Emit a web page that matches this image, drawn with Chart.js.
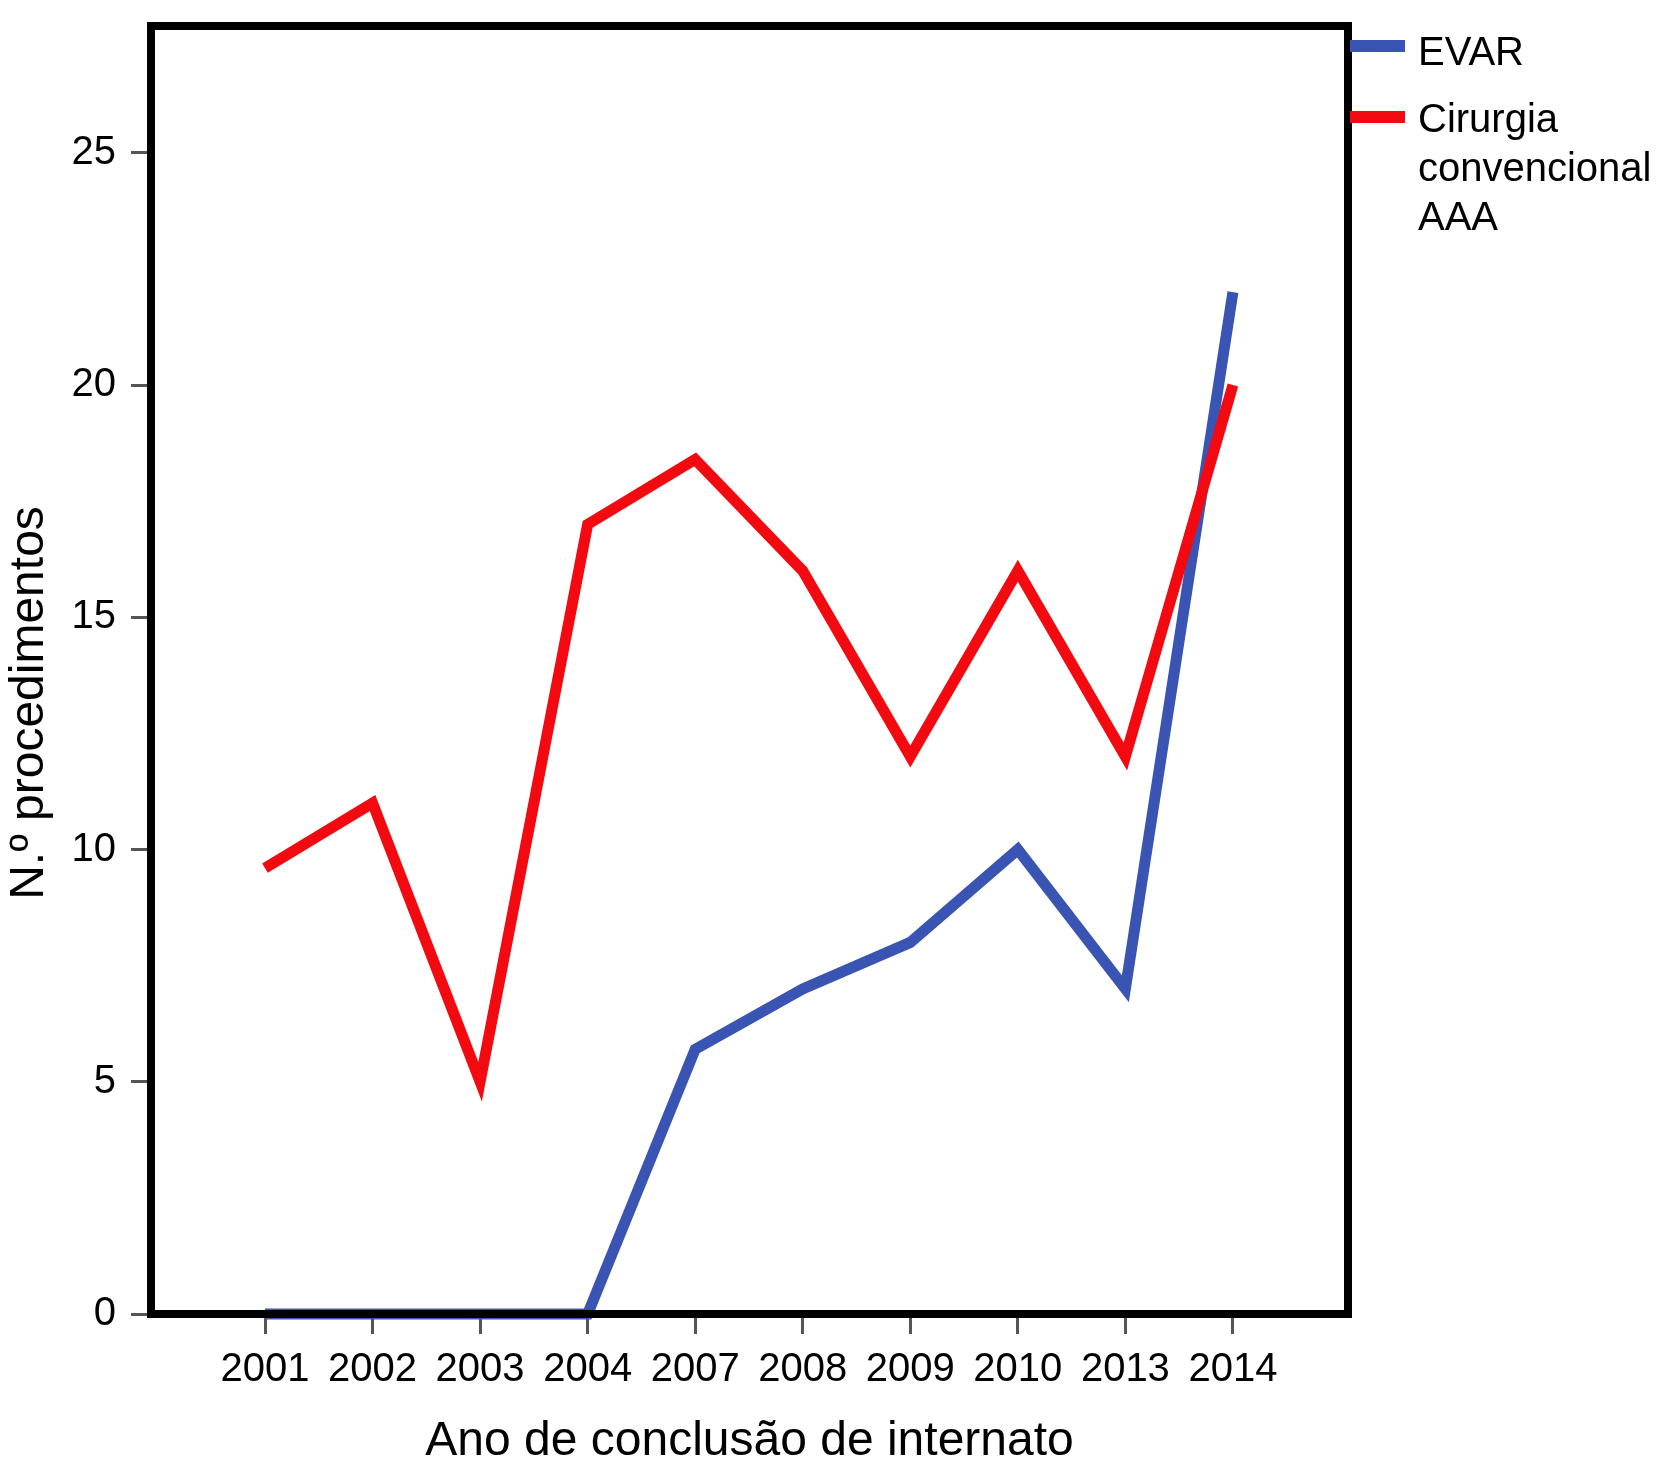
<!DOCTYPE html>
<html>
<head>
    <meta charset='utf-8'>
    <title>EVAR vs cirurgia convencional</title>
    <style>
        body { margin: 0; background: #fff; }
    </style>
</head>
<body>
    <canvas id="myChart" width="1658" height="1466"></canvas>

    <script src="https://cdn.jsdelivr.net/npm/chart.js"></script>
    <script>
const anos = ['2001', '2002', '2003', '2004', '2007', '2008', '2009', '2010', '2013', '2014'];
const evar = [0, 0, 0, 0, 5.7, 7, 8, 10, 7, 22];
const cirurgia = [9.6, 11, 5, 17, 18.4, 16, 12, 16, 12, 20];
const yTicks = [0, 5, 10, 15, 20, 25];

const tituloX = 'Ano de conclusão de internato';
const tituloY = 'N.º procedimentos';
const legenda = [['EVAR'], ['Cirurgia', 'convencional', 'AAA']];

const fonte = '"Liberation Sans", Arial, Helvetica, sans-serif';
const azul = 'rgb(58, 84, 180)';
const vermelho = 'rgb(242, 10, 16)';

const pontos = (arr) => arr.map((v, i) => ({ x: i, y: v }));

// moldura, titulos dos eixos e legenda desenhados a mao
const extras = {
    id: 'extras',
    afterDatasetsDraw(chart) {
        const ctx = chart.ctx;
        const a = chart.chartArea;
        ctx.save();
        ctx.strokeStyle = '#000';
        ctx.lineWidth = 8;
        ctx.strokeRect(a.left, a.top, a.right - a.left, a.bottom - a.top);

        ctx.fillStyle = '#000';
        ctx.font = '48px ' + fonte;
        ctx.textAlign = 'center';
        ctx.textBaseline = 'alphabetic';
        ctx.fillText(tituloX, (a.left + a.right) / 2, 1455);

        ctx.save();
        ctx.translate(43, 703);
        ctx.rotate(-Math.PI / 2);
        ctx.fillText(tituloY, 0, 0);
        ctx.restore();

        // legenda
        const ds = chart.data.datasets;
        const linhasY = [46, 117];
        const textoY = [[65], [132, 181, 230]];
        ctx.font = '40px ' + fonte;
        ctx.textAlign = 'left';
        ds.forEach((d, i) => {
            ctx.strokeStyle = d.borderColor;
            ctx.lineWidth = 12;
            ctx.beginPath();
            ctx.moveTo(a.right + 2, linhasY[i]);
            ctx.lineTo(a.right + 57, linhasY[i]);
            ctx.stroke();
            legenda[i].forEach((t, j) => ctx.fillText(t, a.right + 70, textoY[i][j]));
        });
        ctx.restore();
    }
};

new Chart(document.getElementById('myChart'), {
    type: 'line',
    data: {
        datasets: [
            {
                label: 'EVAR',
                data: pontos(evar),
                borderColor: azul,
                backgroundColor: azul,
                borderWidth: 11,
                order: 1
            },
            {
                label: 'Cirurgia convencional AAA',
                data: pontos(cirurgia),
                borderColor: vermelho,
                backgroundColor: vermelho,
                borderWidth: 11,
                order: 0
            }
        ]
    },
    options: {
        responsive: false,
        animation: false,
        devicePixelRatio: 1,
        layout: { padding: { top: 26, right: 310, left: 0, bottom: 0 } },
        elements: {
            point: { radius: 0, hoverRadius: 0 },
            line: { tension: 0, borderJoinStyle: 'miter', borderCapStyle: 'butt', fill: false }
        },
        datasets: { line: { clip: false } },
        plugins: {
            legend: { display: false },
            tooltip: { enabled: false },
            title: { display: false }
        },
        scales: {
            x: {
                type: 'linear',
                min: -1.06,
                max: 10.07,
                afterBuildTicks: (s) => { s.ticks = anos.map((_, i) => ({ value: i })); },
                afterFit: (s) => { s.height = 152; s.paddingLeft = 0; s.paddingRight = 0; },
                border: { display: false },
                grid: { drawOnChartArea: false, drawTicks: true, tickLength: 20, color: '#555', lineWidth: 3 },
                ticks: {
                    autoSkip: false,
                    maxRotation: 0,
                    padding: 12,
                    color: '#000',
                    font: { family: fonte, size: 40 },
                    callback: (v) => anos[v] || ''
                }
            },
            y: {
                min: 0,
                max: 27.73,
                afterBuildTicks: (s) => { s.ticks = yTicks.map(v => ({ value: v })); },
                afterFit: (s) => { s.width = 151; s.paddingTop = 0; s.paddingBottom = 0; },
                border: { display: false },
                grid: { drawOnChartArea: false, drawTicks: true, tickLength: 20, color: '#555', lineWidth: 3 },
                ticks: {
                    padding: 15,
                    color: '#000',
                    font: { family: fonte, size: 40 }
                }
            }
        }
    },
    plugins: [extras]
});
    </script>
</body>
</html>
